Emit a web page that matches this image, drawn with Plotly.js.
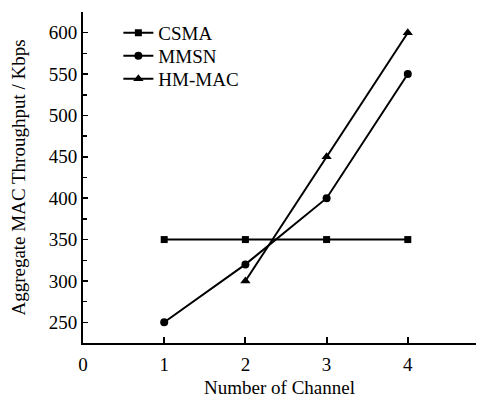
<!DOCTYPE html>
<html>
<head>
<meta charset="utf-8">
<script src="https://cdn.plot.ly/plotly-3.0.1.min.js"></script>
<style>html,body{margin:0;padding:0;background:#fff}#chart{width:477px;height:398px}</style>
</head>
<body>
<div id="chart"></div>
<script>
const csmaX = [1, 2, 3, 4];
const csmaY = [350, 350, 350, 350];
const mmsnX = [1, 2, 3, 4];
const mmsnY = [250, 320, 400, 550];
const hmX = [2, 3, 4];
const hmY = [300, 450, 600];
const xTicks = [0, 1, 2, 3, 4];
const yTicks = [250, 300, 350, 400, 450, 500, 550, 600];

const font = {family: 'Liberation Serif, Times New Roman, serif', size: 19, color: '#000'};
const line = {color: '#000', width: 2};

const traces = [
  {x: csmaX, y: csmaY, name: 'CSMA', mode: 'lines+markers', line: line,
   marker: {symbol: 'square', size: 7, color: '#000'}},
  {x: mmsnX, y: mmsnY, name: 'MMSN', mode: 'lines+markers', line: line,
   marker: {symbol: 'circle', size: 8, color: '#000'}},
  {x: hmX, y: hmY, name: 'HM-MAC', mode: 'lines+markers', line: line,
   marker: {symbol: 'triangle-up', size: 9, color: '#000'}}
];

const layout = {
  width: 477, height: 398,
  margin: {l: 83, r: 1, t: 12, b: 55},
  paper_bgcolor: '#fff', plot_bgcolor: '#fff',
  font: font,
  showlegend: true,
  legend: {x: 0.09, y: 1.0, xanchor: 'left', yanchor: 'top', bgcolor: 'rgba(0,0,0,0)',
           font: font, tracegroupgap: 0, itemwidth: 30},
  xaxis: {
    range: [0, 4.84], tickvals: xTicks, ticktext: xTicks.map(String),
    showgrid: false, zeroline: false, showline: true, linecolor: '#000', linewidth: 2,
    ticks: 'inside', ticklen: 6, tickwidth: 2, tickcolor: '#000',
    ticklabelstandoff: 3,
    title: {text: 'Number of Channel', font: font, standoff: 17},
    tickfont: font
  },
  yaxis: {
    range: [225, 625], tickvals: yTicks, ticktext: yTicks.map(String),
    showgrid: false, zeroline: false, showline: true, linecolor: '#000', linewidth: 2,
    ticks: 'inside', ticklen: 5, tickwidth: 1.5, tickcolor: '#000',
    minor: {tickvals: [275, 325, 375, 425, 475, 525, 575, 625], ticks: 'inside', ticklen: 4, tickwidth: 1.5, tickcolor: '#000'},
    title: {text: 'Aggregate MAC Throughput / Kbps', font: font, standoff: 18},
    tickfont: font
  }
};

Plotly.newPlot('chart', traces, layout, {displayModeBar: false, staticPlot: true}).then(function (gd) {
  // tighten legend row spacing to match the reference
  const items = gd.querySelectorAll('.legend .traces');
  if (!items.length) return;
  const m0 = /translate\(([-\d.]+),\s*([-\d.]+)\)/.exec(items[0].getAttribute('transform') || '');
  if (!m0) return;
  const x0 = parseFloat(m0[1]), y0 = parseFloat(m0[2]) + 2;
  items.forEach(function (el, i) {
    el.setAttribute('transform', 'translate(' + x0 + ',' + (y0 + i * 23) + ')');
  });
});
</script>
</body>
</html>
